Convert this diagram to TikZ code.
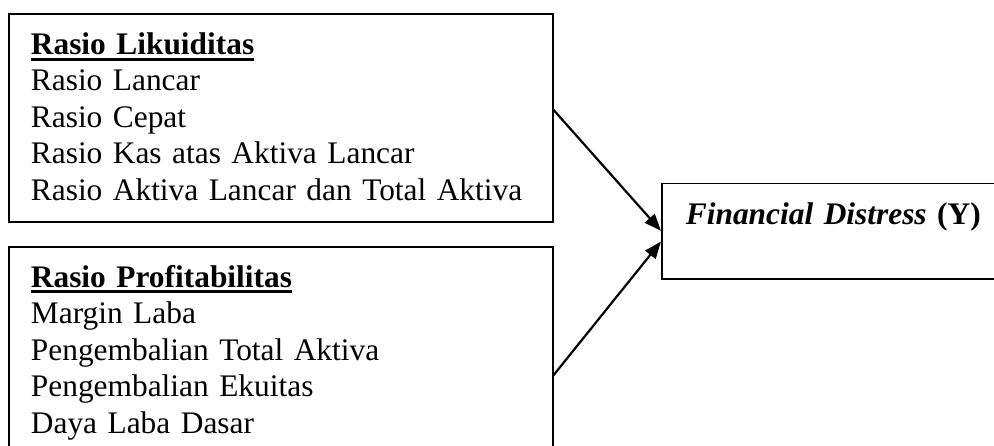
\documentclass[tikz,border=0pt]{standalone}
\usepackage{fontspec}
\setmainfont{Liberation Serif}
\usepackage{tikz}
\usetikzlibrary{arrows.meta,positioning}

% underlined bold heading, as in the reference
\newcommand{\judul}[1]{\setbox0\hbox{\textbf{#1}}\rlap{\rule[-6.3pt]{\wd0}{3pt}}\box0}

\begin{document}
\begin{tikzpicture}[
    x=1pt, y=1pt,
    rasio/.style={rectangle, draw=black, line width=1.8pt, anchor=north west,
                  inner xsep=21.7pt, inner ysep=0pt, text width=500pt, align=left,
                  text height=40.2pt, text depth=167.5pt,
                  font=\fontsize{31.4pt}{36.5pt}\selectfont},
    hasil/.style={rectangle, draw=black, line width=1.8pt, anchor=north west,
                  inner xsep=24pt, inner ysep=0pt, text width=380pt, align=left,
                  text height=40.6pt, text depth=55pt,
                  font=\fontsize{31.4pt}{36.5pt}\selectfont},
    panah/.style={-{Triangle[length=17pt,width=13pt]}, line width=2.2pt}
]
\useasboundingbox (0,0) rectangle (994,446);
\clip (0,0) rectangle (994,446);

\node[rasio] (likuid) at (8.3,432.7) {\judul{Rasio Likuiditas}\\
    Rasio Lancar\\
    Rasio Cepat\\
    Rasio Kas atas Aktiva Lancar\\
    \makebox[498.6pt][s]{Rasio Aktiva Lancar dan Total Aktiva}};
\node[rasio, below=23.2pt of likuid] (profit) {\judul{Rasio Profitabilitas}\\
    Margin Laba\\
    Pengembalian Total Aktiva\\
    Pengembalian Ekuitas\\
    Daya Laba Dasar};

\node[hasil] (distress) at (661,263.3)
    {\textbf{\textit{Financial Distress}} \textbf{(Y)}};

\draw[panah] ([yshift=8.2pt]likuid.east) -- ([yshift=0.5pt]distress.west);
\draw[panah] ([yshift=-24.5pt]profit.east) -- ([yshift=-10.2pt]distress.west);
\end{tikzpicture}
\end{document}
